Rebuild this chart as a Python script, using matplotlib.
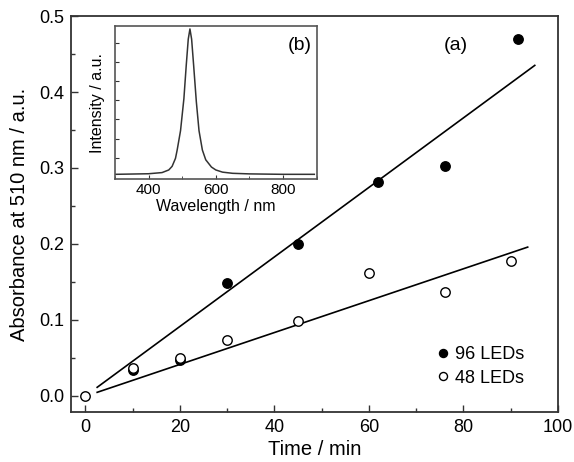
import matplotlib
matplotlib.use("Agg")
import matplotlib.pyplot as plt
import numpy as np
from matplotlib.ticker import MultipleLocator, FormatStrFormatter

plt.rcParams["font.family"] = ["Liberation Sans", "DejaVu Sans"]

# absorbance vs irradiation time
time_96 = [10, 20, 30, 45, 62, 76, 91.5]
abs_96 = [0.034, 0.047, 0.149, 0.200, 0.282, 0.302, 0.470]
time_48 = [0, 10, 20, 30, 45, 60, 76, 90]
abs_48 = [0.0, 0.037, 0.050, 0.074, 0.098, 0.161, 0.137, 0.177]

# linear fits (slope, intercept) and the time span they are drawn over
fit_96 = [0.00458, -0.0004]
fit_48 = [0.00210, -0.0008]
fit_span_96 = [2.5, 95.1]
fit_span_48 = [2.5, 93.6]

# LED emission spectrum, normalised to the peak
wavelength = [300, 400, 440, 460, 470, 480, 485, 495, 505, 512, 518, 523,
              528, 534, 542, 550, 560, 570, 587, 600, 620, 650, 700, 800, 893]
intensity = [0.0, 0.004, 0.012, 0.03, 0.055, 0.11, 0.167, 0.30, 0.52, 0.75,
             0.93, 1.0, 0.93, 0.75, 0.50, 0.30, 0.167, 0.10, 0.05, 0.03,
             0.015, 0.007, 0.003, 0.0, 0.0]

spine_col = "#333333"

fig = plt.figure(figsize=(5.74, 4.62), dpi=100)
ax = fig.add_axes([0.124, 0.109, 0.848, 0.856])

ax.plot(time_96, abs_96, "o", ms=6.8, mfc="black", mec="black", label="96 LEDs", zorder=3)
ax.plot(time_48, abs_48, "o", ms=6.8, mfc="white", mec="black", mew=1.0, label="48 LEDs", zorder=3)

for fit, span in [(fit_96, fit_span_96), (fit_48, fit_span_48)]:
    xs = np.array(span)
    ax.plot(xs, fit[0] * xs + fit[1], color="black", lw=1.2, zorder=2)

ax.set_xlim(-3, 100)
ax.set_ylim(-0.021, 0.5)
ax.xaxis.set_major_locator(MultipleLocator(20))
ax.xaxis.set_minor_locator(MultipleLocator(10))
ax.yaxis.set_major_locator(MultipleLocator(0.1))
ax.yaxis.set_minor_locator(MultipleLocator(0.05))
ax.yaxis.set_major_formatter(FormatStrFormatter("%.1f"))
ax.tick_params(which="both", direction="in", color=spine_col, width=1.0,
               labelsize=13, pad=5)
ax.tick_params(which="major", length=5)
ax.tick_params(which="minor", length=3)
for s in ax.spines.values():
    s.set_color(spine_col)
    s.set_linewidth(1.3)

ax.set_xlabel("Time / min", fontsize=14.5, labelpad=3)
ax.set_ylabel("Absorbance at 510 nm / a.u.", fontsize=14.5, labelpad=7)
ax.text(0.79, 0.925, "(a)", transform=ax.transAxes, fontsize=14, ha="center", va="center")

ax.legend(loc="lower right", bbox_to_anchor=(0.945, 0.045), frameon=False,
          fontsize=13, handlelength=0.5, handletextpad=0.4,
          labelspacing=0.36, markerscale=0.85, borderaxespad=0)

# inset: emission spectrum
ins = fig.add_axes([0.2003, 0.6126, 0.3514, 0.331])
ins.plot(wavelength, intensity, color="#333333", lw=1.1)
ins.set_xlim(300, 900)
ins.set_ylim(-0.032, 1.02)
ins.xaxis.set_major_locator(MultipleLocator(200))
ins.xaxis.set_minor_locator(MultipleLocator(100))
ins.set_yticks(np.linspace(0.114, 0.906, 7))
ins.set_yticklabels([])
ins.tick_params(which="both", direction="in", color=spine_col, labelsize=11, pad=3)
ins.tick_params(which="major", length=3)
ins.tick_params(which="minor", length=2)
for s in ins.spines.values():
    s.set_color("#555555")
    s.set_linewidth(1.2)
ins.set_xlabel("Wavelength / nm", fontsize=11.5, labelpad=1)
ins.set_ylabel("Intensity / a.u.", fontsize=11.5, labelpad=4)
ins.text(0.917, 0.875, "(b)", transform=ins.transAxes, fontsize=14, ha="center", va="center")

fig.savefig("out.png", dpi=100)
